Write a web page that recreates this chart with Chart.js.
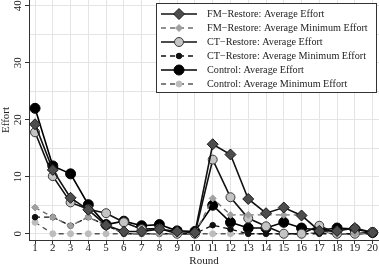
<!DOCTYPE html>
<html>
<head>
<meta charset="utf-8">
<script src="https://cdn.jsdelivr.net/npm/chart.js@4.4.0/dist/chart.umd.min.js"></script>
<style>
  html, body { margin: 0; padding: 0; background: #fff; }
  #chart { display: block; }
</style>
</head>
<body>
<canvas id="chart" width="379" height="268"></canvas>
<script>
const rounds = [1, 2, 3, 4, 5, 6, 7, 8, 9, 10, 11, 12, 13, 14, 15, 16, 17, 18, 19, 20];

const fmAvg    = [19.2, 11.2, 6.3, 4.2, 1.5, 0.4, 0.4, 0.8, 0.4, 0.2, 15.7, 13.9, 6.1, 3.6, 4.6, 3.2, 0.5, 0.5, 1.0, 0.2];
const fmMin    = [4.6, 2.9, 1.4, 2.9, 1.5, 0, 0, 0, 0, 0, 6.2, 3.3, 3.3, 3.3, 3.3, 3.3, 0.5, 0, 0, 0];
const ctAvg    = [17.8, 10.1, 5.5, 4.3, 3.6, 2.0, 0.8, 0.9, 0, 0, 13.0, 6.4, 2.7, 1.3, 0, 0, 1.4, 0, 0, 0.3];
const ctMin    = [2.9, 2.9, 1.4, 2.9, 1.5, 0, 0, 0, 0, 0, 1.5, 0.8, 0, 0, 0, 0, 0, 0, 0, 0];
const ctrlAvg  = [22.0, 11.9, 10.5, 5.1, 1.6, 2.2, 1.4, 1.6, 0.5, 0.4, 5.0, 2.0, 1.0, 1.0, 2.0, 1.0, 0.6, 1.0, 0.8, 0.2];
const ctrlMin  = [2.0, 0, 0, 0, 0, 0, 0, 0, 0, 0, 0, 0, 0, 0, 0, 0, 0.2, 0, 0, 0];

const seriesNames = [
    'FM\u2212Restore: Average Effort',
    'FM\u2212Restore: Average Minimum Effort',
    'CT\u2212Restore: Average Effort',
    'CT\u2212Restore: Average Minimum Effort',
    'Control: Average Effort',
    'Control: Average Minimum Effort'
];

const yTickLabels = [0, 10, 20, 30, 40];

const FONT = '"Liberation Serif", "Times New Roman", serif';

const toPoints = (vals) => rounds.map((r, i) => ({ x: r, y: vals[i] }));

const styles = [
    { pointStyle: 'rectRot', pointRadius: 5.5, backgroundColor: '#4d4d4d', borderColor: '#1a1a1a', lineColor: '#111', borderWidth: 1.6, dash: [] },
    { pointStyle: 'rectRot', pointRadius: 3.5, backgroundColor: '#a0a0a0', borderColor: '#a0a0a0', lineColor: '#6e6e6e', borderWidth: 1.4, dash: [5, 4] },
    { pointStyle: 'circle', pointRadius: 4.5, backgroundColor: '#c4c4c4', borderColor: '#3a3a3a', lineColor: '#111', borderWidth: 1.6, dash: [] },
    { pointStyle: 'circle', pointRadius: 2.8, backgroundColor: '#111', borderColor: '#111', lineColor: '#111', borderWidth: 1.3, dash: [5, 4] },
    { pointStyle: 'circle', pointRadius: 5, backgroundColor: '#000', borderColor: '#000', lineColor: '#000', borderWidth: 1.6, dash: [] },
    { pointStyle: 'circle', pointRadius: 3, backgroundColor: '#bdbdbd', borderColor: '#bdbdbd', lineColor: '#555', borderWidth: 1.3, dash: [5, 4] }
];

const seriesValues = [fmAvg, fmMin, ctAvg, ctMin, ctrlAvg, ctrlMin];

const datasets = seriesValues.map((vals, i) => ({
    label: seriesNames[i],
    data: toPoints(vals),
    borderColor: styles[i].lineColor,
    borderWidth: styles[i].borderWidth,
    borderDash: styles[i].dash,
    pointStyle: styles[i].pointStyle,
    pointRadius: styles[i].pointRadius,
    pointBackgroundColor: styles[i].backgroundColor,
    pointBorderColor: styles[i].borderColor,
    pointBorderWidth: 1,
    tension: 0,
    fill: false
}));

// legend box drawn by hand so each entry shows line + marker
const boxLegend = {
    id: 'boxLegend',
    afterDraw(chart) {
        const ctx = chart.ctx;
        const x0 = 156.5, y0 = 3.5, w = 220, h = 89;
        ctx.save();
        ctx.fillStyle = '#fff';
        ctx.fillRect(x0, y0, w, h);
        ctx.strokeStyle = '#333';
        ctx.lineWidth = 1;
        ctx.strokeRect(x0, y0, w, h);
        ctx.font = '10.2px ' + FONT;
        ctx.textBaseline = 'middle';
        ctx.textAlign = 'left';
        seriesNames.forEach((name, i) => {
            const s = styles[i];
            const y = 14 + i * 14;
            ctx.strokeStyle = s.lineColor;
            ctx.lineWidth = s.borderWidth;
            ctx.setLineDash(s.dash);
            ctx.beginPath();
            ctx.moveTo(161, y);
            ctx.lineTo(197, y);
            ctx.stroke();
            ctx.setLineDash([]);
            ctx.fillStyle = s.backgroundColor;
            ctx.strokeStyle = s.borderColor;
            ctx.lineWidth = 1;
            Chart.helpers.drawPoint(ctx, { pointStyle: s.pointStyle, radius: s.pointRadius, rotation: 0, borderWidth: 1 }, 179, y);
            ctx.fillStyle = '#222';
            ctx.fillText(name, 207, y + 0.5);
        });
        ctx.restore();
    }
};

new Chart(document.getElementById('chart').getContext('2d'), {
    type: 'line',
    data: { datasets },
    options: {
        responsive: false,
        animation: false,
        devicePixelRatio: 1,
        layout: { padding: 0, autoPadding: false },
        plugins: {
            legend: { display: false },
            tooltip: { enabled: false }
        },
        scales: {
            x: {
                type: 'linear',
                min: 0.66,
                max: 20.36,
                afterFit: (scale) => { scale.height = 28; scale.paddingLeft = 0; scale.paddingRight = 0; },
                ticks: {
                    stepSize: 1,
                    includeBounds: false,
                    autoSkip: false,
                    maxRotation: 0,
                    padding: -2,
                    color: '#222',
                    font: { family: FONT, size: 11 },
                    callback: (v) => Number.isInteger(v) ? String(v) : ''
                },
                grid: { color: '#e4e4e4', lineWidth: 1, tickLength: 4, tickColor: '#333' },
                border: { display: true, color: '#333', width: 1 },
                title: {
                    display: true,
                    text: 'Round',
                    color: '#222',
                    font: { family: FONT, size: 11 },
                    padding: 0
                }
            },
            y: {
                min: -1.1,
                max: 41,
                afterFit: (scale) => { scale.width = 29; scale.paddingTop = 0; scale.paddingBottom = 0; },
                ticks: {
                    stepSize: 5,
                    includeBounds: false,
                    minRotation: 90,
                    maxRotation: 90,
                    crossAlign: 'center',
                    padding: 1.5,
                    color: '#222',
                    font: { family: FONT, size: 11 },
                    callback: (v) => yTickLabels.includes(v) ? String(v) : ''
                },
                grid: {
                    color: '#e4e4e4',
                    lineWidth: 1,
                    tickLength: 4,
                    tickColor: (c) => (c.tick && yTickLabels.includes(c.tick.value)) ? '#333' : 'rgba(0,0,0,0)'
                },
                border: { display: true, color: '#333', width: 1 },
                title: {
                    display: true,
                    text: 'Effort',
                    color: '#222',
                    font: { family: FONT, size: 11 },
                    padding: 0
                }
            }
        }
    },
    plugins: [boxLegend]
});
</script>
</body>
</html>
